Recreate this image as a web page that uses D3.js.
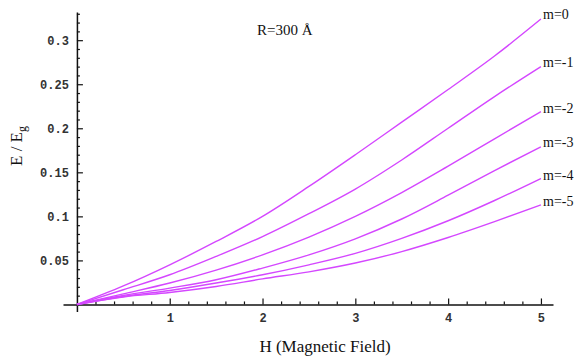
<!DOCTYPE html>
<html>
<head>
<meta charset="utf-8">
<script src="https://cdn.jsdelivr.net/npm/d3@7"></script>
<style>
  body { margin: 0; background: #fff; }
  .tick text { font-family: "Liberation Mono", monospace; font-size: 12px; font-weight: bold; fill: #333; }
  .serif { font-family: "Liberation Serif", serif; fill: #111; }
</style>
</head>
<body>
<div id="chart"></div>
<script>
const hValues = [0, 0.5, 1, 1.5, 2, 2.5, 3, 3.5, 4, 4.5, 5];
const m0 = [0, 0.021, 0.045, 0.0715, 0.100, 0.134, 0.170, 0.207, 0.244, 0.282, 0.324];
const m1 = [0, 0.0167, 0.0337, 0.0545, 0.077, 0.103, 0.131, 0.164, 0.200, 0.236, 0.270];
const m2 = [0, 0.012, 0.0243, 0.039, 0.0563, 0.0765, 0.100, 0.127, 0.157, 0.188, 0.219];
const m3 = [0, 0.0102, 0.0186, 0.028, 0.0413, 0.0563, 0.0745, 0.097, 0.124, 0.152, 0.179];
const m4 = [0, 0.009, 0.0159, 0.0243, 0.0337, 0.045, 0.058, 0.075, 0.095, 0.118, 0.143];
const m5 = [0, 0.0085, 0.0136, 0.0204, 0.029, 0.037, 0.047, 0.060, 0.076, 0.094, 0.113];
const seriesLabels = ["m=0", "m=-1", "m=-2", "m=-3", "m=-4", "m=-5"];
const xTicks = [1, 2, 3, 4, 5];
const yTicks = [0.05, 0.1, 0.15, 0.2, 0.25, 0.3];

const series = [m0, m1, m2, m3, m4, m5];
const width = 574, height = 357;

const x = d3.scaleLinear().domain([-0.15, 5.13]).range([63, 553]);
const y = d3.scaleLinear().domain([-0.008, 0.332]).range([311.5, 12]);

const svg = d3.select("#chart").append("svg")
  .attr("width", width)
  .attr("height", height);

// minor ticks
const xMinor = d3.range(0.2, 5.01, 0.2).filter(v => Math.abs(v - Math.round(v)) > 0.01);
const yMinor = d3.range(0.01, 0.331, 0.01).filter(v => Math.abs(v * 20 - Math.round(v * 20)) > 0.01);

svg.append("g")
  .attr("transform", `translate(0,${y(0)})`)
  .call(d3.axisBottom(x).tickValues(xMinor).tickSize(-3).tickFormat(""))
  .call(g => g.select(".domain").remove());

svg.append("g")
  .attr("transform", `translate(${x(0)},0)`)
  .call(d3.axisLeft(y).tickValues(yMinor).tickSize(-3).tickFormat(""))
  .call(g => g.select(".domain").remove());

svg.append("g")
  .attr("transform", `translate(0,${y(0)})`)
  .call(d3.axisBottom(x).tickValues(xTicks).tickSize(-6).tickSizeOuter(0).tickPadding(9).tickFormat(d3.format("d")));

svg.append("g")
  .attr("transform", `translate(${x(0)},0)`)
  .call(d3.axisLeft(y).tickValues(yTicks).tickSize(-6).tickSizeOuter(0).tickPadding(8).tickFormat(d => String(d)));

svg.selectAll(".domain").attr("stroke", "#111").attr("stroke-width", 1.5);
svg.selectAll(".tick line").attr("stroke", "#111").attr("stroke-width", 1.2);

const line = d3.line()
  .x((d, i) => x(hValues[i]))
  .y(d => y(d))
  .curve(d3.curveMonotoneX);

svg.selectAll(".curve")
  .data(series)
  .enter()
  .append("path")
  .attr("class", "curve")
  .attr("fill", "none")
  .attr("stroke", "#d447ff")
  .attr("stroke-width", 1.4)
  .attr("d", line);

const labelY = [14, 62, 108, 142, 175, 201];
svg.selectAll(".mlabel")
  .data(seriesLabels)
  .enter()
  .append("text")
  .attr("class", "serif")
  .attr("x", 543)
  .attr("y", (d, i) => labelY[i])
  .attr("dy", "0.35em")
  .attr("font-size", 14)
  .text(d => d);

svg.append("text")
  .attr("class", "serif")
  .attr("x", 257)
  .attr("y", 35)
  .attr("font-size", 15)
  .text("R=300 Å");

svg.append("text")
  .attr("class", "serif")
  .attr("x", 325)
  .attr("y", 352)
  .attr("text-anchor", "middle")
  .attr("font-size", 17)
  .text("H (Magnetic Field)");

const yl = svg.append("text")
  .attr("class", "serif")
  .attr("transform", "translate(22,146) rotate(-90)")
  .attr("text-anchor", "middle")
  .attr("font-size", 17);
yl.append("tspan").text("E / E");
yl.append("tspan").attr("font-size", 12).attr("dy", 4).text("g");
</script>
</body>
</html>
